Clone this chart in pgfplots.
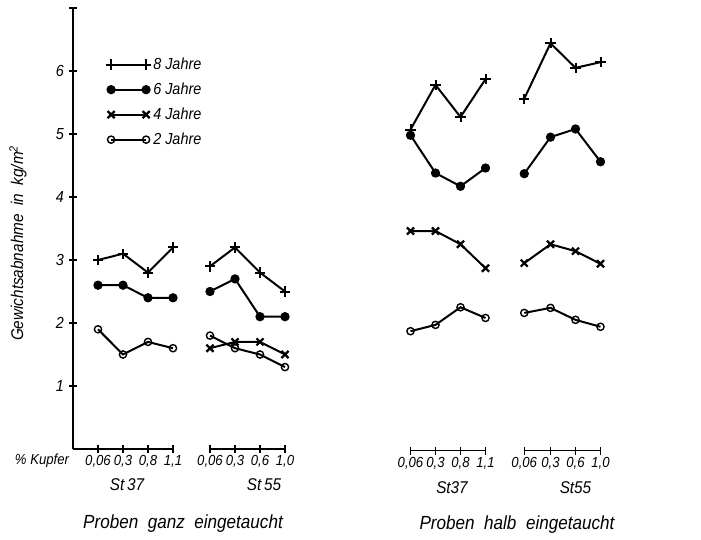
\documentclass[border=0pt]{standalone}
\usepackage{fontspec}
\setmainfont{Liberation Sans}[FakeStretch=0.9]
\usepackage{pgfplots}
\pgfplotsset{compat=1.18}
\newcommand{\fs}[1]{\itshape\fontsize{#1}{#1}\selectfont}
\begin{document}
\begin{tikzpicture}
\begin{axis}[
  x=12.5pt, y=31.5pt,
  xmin=0, xmax=22, ymin=0, ymax=7,
  axis x line=none, axis y line*=left,
  clip=false,
  axis line style={line width=0.8pt},
  ytick={1,2,3,4,5,6,7},
  yticklabels={1,2,3,4,5,6,{}},
  /pgf/number format/assume math mode=true,
  major tick length=4pt, tick align=center,
  tick style={line width=0.6pt, black},
  y tick label style={font=\fs{8}, xshift=1pt},
  ylabel={Gewichtsabnahme\ \ in\ \ kg/m\textsuperscript{2}},
  ylabel style={font=\fs{8.5}, at={(axis description cs:-0.1,0.467)}, anchor=center},
  legend style={at={(axis cs:1.3,6.25)}, anchor=north west, draw=none, fill=none,
    font=\fs{8}, row sep=3.5pt, inner sep=0pt,
    nodes={inner sep=1pt, text height=6pt, text depth=1pt},
    /tikz/every even column/.append style={column sep=3pt}},
  legend cell align=left,
  legend image code/.code={\draw[#1] plot coordinates {(0pt,0pt) (17.5pt,0pt)};},
  unbounded coords=jump,
]
% 8 Jahre
\addplot[black, line width=1pt, mark=+, mark size=2.6pt] coordinates {
 (1,3.0)(2,3.1)(3,2.8)(4,3.2)(5,nan)
 (5.48,2.9)(6.48,3.2)(7.48,2.8)(8.48,2.5)(10,nan)
 (13.5,5.07)(14.5,5.78)(15.5,5.27)(16.5,5.87)(17,nan)
 (18.05,5.56)(19.1,6.44)(20.1,6.05)(21.1,6.14)};
% 6 Jahre
\addplot[black, line width=1pt, mark=*, mark size=1.8pt] coordinates {
 (1,2.6)(2,2.6)(3,2.4)(4,2.4)(5,nan)
 (5.48,2.5)(6.48,2.7)(7.48,2.1)(8.48,2.1)(10,nan)
 (13.5,4.98)(14.5,4.38)(15.5,4.17)(16.5,4.46)(17,nan)
 (18.05,4.37)(19.1,4.95)(20.1,5.08)(21.1,4.56)};
% 4 Jahre
\addplot[black, line width=1pt, mark=x, mark size=2.5pt, mark options={line width=1.1pt}] coordinates {
 (5.48,1.6)(6.48,1.7)(7.48,1.7)(8.48,1.5)(10,nan)
 (13.5,3.46)(14.5,3.46)(15.5,3.25)(16.5,2.87)(17,nan)
 (18.05,2.95)(19.1,3.25)(20.1,3.14)(21.1,2.94)};
% 2 Jahre
\addplot[black, line width=1pt, mark=o, mark size=1.8pt, mark options={fill=white, line width=0.7pt}] coordinates {
 (1,1.9)(2,1.5)(3,1.7)(4,1.6)(5,nan)
 (5.48,1.8)(6.48,1.6)(7.48,1.5)(8.48,1.3)(10,nan)
 (13.5,1.87)(14.5,1.97)(15.5,2.25)(16.5,2.08)(17,nan)
 (18.05,2.16)(19.1,2.24)(20.1,2.05)(21.1,1.94)};
\legend{8 Jahre, 6 Jahre, 4 Jahre, 2 Jahre}
% group baselines with ticks
\addplot[forget plot, black, line width=0.6pt, mark=|, mark size=2pt, mark indices={2,3,4,5}] coordinates {(0,0)(1,0)(2,0)(3,0)(4,0)};
\addplot[forget plot, black, line width=0.6pt, mark=|, mark size=2pt] coordinates {(5.48,0)(6.48,0)(7.48,0)(8.48,0)};
\addplot[forget plot, black, line width=0.6pt, mark=|, mark size=2pt] coordinates {(13.5,-0.03)(14.5,-0.03)(15.5,-0.03)(16.5,-0.03)};
\addplot[forget plot, black, line width=0.6pt, mark=|, mark size=2pt] coordinates {(18.05,-0.03)(19.1,-0.03)(20.1,-0.03)(21.1,-0.03)};
% x tick labels
\node[font=\fs{7.3}] at (axis cs:1,-0.19) {0,06};
\node[font=\fs{7.3}] at (axis cs:2,-0.19) {0,3};
\node[font=\fs{7.3}] at (axis cs:3,-0.19) {0,8};
\node[font=\fs{7.3}] at (axis cs:4,-0.19) {1,1};
\node[font=\fs{7.3}] at (axis cs:5.48,-0.19) {0,06};
\node[font=\fs{7.3}] at (axis cs:6.48,-0.19) {0,3};
\node[font=\fs{7.3}] at (axis cs:7.48,-0.19) {0,6};
\node[font=\fs{7.3}] at (axis cs:8.48,-0.19) {1,0};
\node[font=\fs{7.3}] at (axis cs:13.5,-0.23) {0,06};
\node[font=\fs{7.3}] at (axis cs:14.5,-0.23) {0,3};
\node[font=\fs{7.3}] at (axis cs:15.5,-0.23) {0,8};
\node[font=\fs{7.3}] at (axis cs:16.5,-0.23) {1,1};
\node[font=\fs{7.3}] at (axis cs:18.05,-0.23) {0,06};
\node[font=\fs{7.3}] at (axis cs:19.1,-0.23) {0,3};
\node[font=\fs{7.3}] at (axis cs:20.1,-0.23) {0,6};
\node[font=\fs{7.3}] at (axis cs:21.1,-0.23) {1,0};
\node[font=\fs{7.3}] at (axis cs:-1.24,-0.19) {\%\ Kupfer};
\node[font=\fs{8.5}] at (axis cs:2.16,-0.57) {St\,37};
\node[font=\fs{8.5}] at (axis cs:7.64,-0.57) {St\,55};
\node[font=\fs{8.5}] at (axis cs:15.16,-0.61) {St37};
\node[font=\fs{8.5}] at (axis cs:20.1,-0.61) {St55};
\node[font=\fs{9.5}] at (axis cs:4.4,-1.18) {Proben\ \ ganz\ \ eingetaucht};
\node[font=\fs{9.5}] at (axis cs:17.76,-1.2) {Proben\ \ halb\ \ eingetaucht};
\coordinate (bl) at (axis cs:-2.92,-1.444);
\coordinate (tr) at (axis cs:25.12,7.127);
\end{axis}
\pgfresetboundingbox
\path[use as bounding box] (bl) rectangle (tr);
\end{tikzpicture}
\end{document}
